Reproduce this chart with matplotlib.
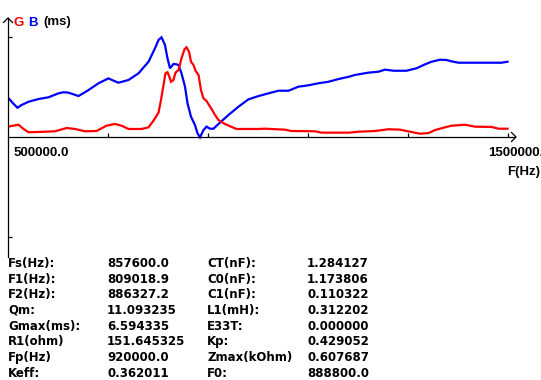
import matplotlib
matplotlib.use("Agg")
import matplotlib.pyplot as plt
from matplotlib.lines import Line2D

# ---------------- data ----------------
b_freq = [500000, 510000, 519000, 527000, 541000, 561000, 581000, 601000, 611000, 621000,
          641000, 661000, 681000, 701000, 711000, 721000, 741000, 761000, 781000, 794000,
          801000, 807000, 814000, 819000, 824000, 831000, 837000, 841000, 847000, 854000,
          859000, 866000, 874000, 879000, 884000, 891000, 897000, 904000, 911000, 921000,
          941000, 961000, 981000, 1001000, 1021000, 1041000, 1061000, 1081000, 1101000,
          1121000, 1141000, 1161000, 1182000, 1194000, 1221000, 1241000, 1254000, 1271000,
          1297000, 1317000, 1334000, 1347000, 1364000, 1377000, 1387000, 1401000, 1441000,
          1487000, 1499000]
b_vals = [2.89, 2.48, 2.15, 2.35, 2.59, 2.79, 2.92, 3.21, 3.29, 3.26,
          3.01, 3.45, 3.95, 4.31, 4.14, 3.99, 4.19, 4.68, 5.53, 6.52,
          7.13, 7.33, 6.76, 5.78, 5.05, 5.37, 5.34, 5.29, 4.68, 3.70,
          2.48, 1.49, 0.88, 0.27, -0.02, 0.51, 0.76, 0.61, 0.61, 0.96,
          1.62, 2.23, 2.77, 3.01, 3.21, 3.40, 3.40, 3.70, 3.80,
          3.95, 4.06, 4.26, 4.43, 4.56, 4.73, 4.80, 4.95, 4.87,
          4.87, 5.05, 5.34, 5.53, 5.68, 5.66, 5.56, 5.46, 5.46,
          5.46, 5.53]

g_freq = [500000, 510000, 521000, 531000, 541000, 561000, 594000, 617000, 634000, 654000,
          677000, 697000, 714000, 727000, 741000, 767000, 781000, 791000, 801000, 806000,
          811000, 815000, 819000, 823000, 826000, 831000, 835000, 841000, 847000, 853000,
          857000, 862000, 866000, 871000, 875000, 881000, 886000, 891000, 897000, 907000,
          914000, 921000, 931000, 944000, 957000, 1001000, 1014000, 1054000, 1067000,
          1114000, 1127000, 1182000, 1201000, 1234000, 1261000, 1284000, 1304000, 1324000,
          1341000, 1354000, 1374000, 1387000, 1414000, 1434000, 1467000, 1481000, 1499000]
g_vals = [0.76, 0.83, 0.90, 0.59, 0.35, 0.37, 0.42, 0.66, 0.59, 0.42,
          0.44, 0.83, 0.96, 0.83, 0.59, 0.59, 0.71, 1.20, 1.79, 2.72,
          3.82, 4.68, 4.76, 4.39, 4.06, 4.19, 4.73, 4.92, 5.78, 6.45,
          6.59, 6.27, 5.53, 5.29, 4.87, 4.56, 3.45, 2.84, 2.65, 2.06,
          1.62, 1.25, 1.01, 0.79, 0.59, 0.59, 0.61, 0.54, 0.44,
          0.42, 0.32, 0.32, 0.39, 0.44, 0.57, 0.54, 0.39, 0.24,
          0.29, 0.51, 0.71, 0.83, 0.90, 0.76, 0.74, 0.61, 0.61]

x_ticks = [700000, 900000, 1100000, 1300000, 1500000]
y_tick = 7.35
x_start_label = "500000.0"
x_end_label = "1500000.0"

table_labels_1 = ["Fs(Hz):", "F1(Hz):", "F2(Hz):", "Qm:", "Gmax(ms):", "R1(ohm)", "Fp(Hz)", "Keff:"]
table_values_1 = ["857600.0", "809018.9", "886327.2", "11.093235", "6.594335", "151.645325", "920000.0", "0.362011"]
table_labels_2 = ["CT(nF):", "C0(nF):", "C1(nF):", "L1(mH):", "E33T:", "Kp:", "Zmax(kOhm)", "F0:"]
table_values_2 = ["1.284127", "1.173806", "0.110322", "0.312202", "0.000000", "0.429052", "0.607687", "888800.0"]

# ---------------- layout ----------------
W, H = 541, 380
fig = plt.figure(figsize=(W / 100, H / 100), dpi=100)
fig.patch.set_facecolor("white")

k = 0.0735          # ms per pixel
hz_per_px = 2000.0
# axes spans x = 8..515 px, y = 18..257 px ; zero line at y = 137 px
ax = fig.add_axes([8 / W, 1 - 257 / H, 507 / W, 239 / H])
ax.set_xlim(500000, 500000 + 507 * hz_per_px)
ax.set_ylim(-(257 - 137) * k, (137 - 18) * k)
ax.patch.set_alpha(0)

for s in ["top", "right"]:
    ax.spines[s].set_visible(False)
ax.spines["bottom"].set_position(("data", 0))
ax.spines["left"].set_position(("data", 500000))
for s in ["bottom", "left"]:
    ax.spines[s].set_linewidth(0.9)
    ax.spines[s].set_color("black")

ax.set_xticks(x_ticks)
ax.set_yticks([-y_tick, y_tick])
ax.tick_params(axis="x", direction="in", length=3.2, width=0.9, labelbottom=False)
ax.tick_params(axis="y", direction="in", length=3.2, width=0.9, labelleft=False)

ax.plot(b_freq, b_vals, color="#0000ff", lw=1.6, solid_joinstyle="miter")
ax.plot(g_freq, g_vals, color="#ff0000", lw=1.6, solid_joinstyle="miter")


def px_line(xs, ys):
    fig.add_artist(Line2D([x / W for x in xs], [1 - y / H for y in ys],
                          transform=fig.transFigure, color="black", lw=0.9))


# arrow heads
px_line([511.5, 516.0, 511.5], [132.5, 137.0, 141.5])
px_line([3.5, 8.0, 12.5], [22.5, 18.0, 22.5])


def px_text(x, y, s, color="black", family="Liberation Sans", size=9.5, **kw):
    fig.text(x / W, 1 - y / H, s, color=color, family=family, weight="bold",
             fontsize=size, ha="left", va="baseline", **kw)


# header
px_text(13.5, 25.5, "G", color="#ff0000")
px_text(28.5, 25.5, "B", color="#0000ff")
px_text(43, 25.5, "(ms)")

# x labels
px_text(14, 155.5, x_start_label)
px_text(488, 155.5, x_end_label)
px_text(507, 175, "F(Hz)")

# table
cols_x = [8, 107, 207, 307]
for i in range(8):
    yb = 267 + 15.65 * i
    px_text(cols_x[0], yb, table_labels_1[i], family="DejaVu Sans", size=8.5)
    px_text(cols_x[1], yb, table_values_1[i], family="DejaVu Sans", size=8.5)
    px_text(cols_x[2], yb, table_labels_2[i], family="DejaVu Sans", size=8.5)
    px_text(cols_x[3], yb, table_values_2[i], family="DejaVu Sans", size=8.5)

fig.savefig("out.png", dpi=100, facecolor="white")
